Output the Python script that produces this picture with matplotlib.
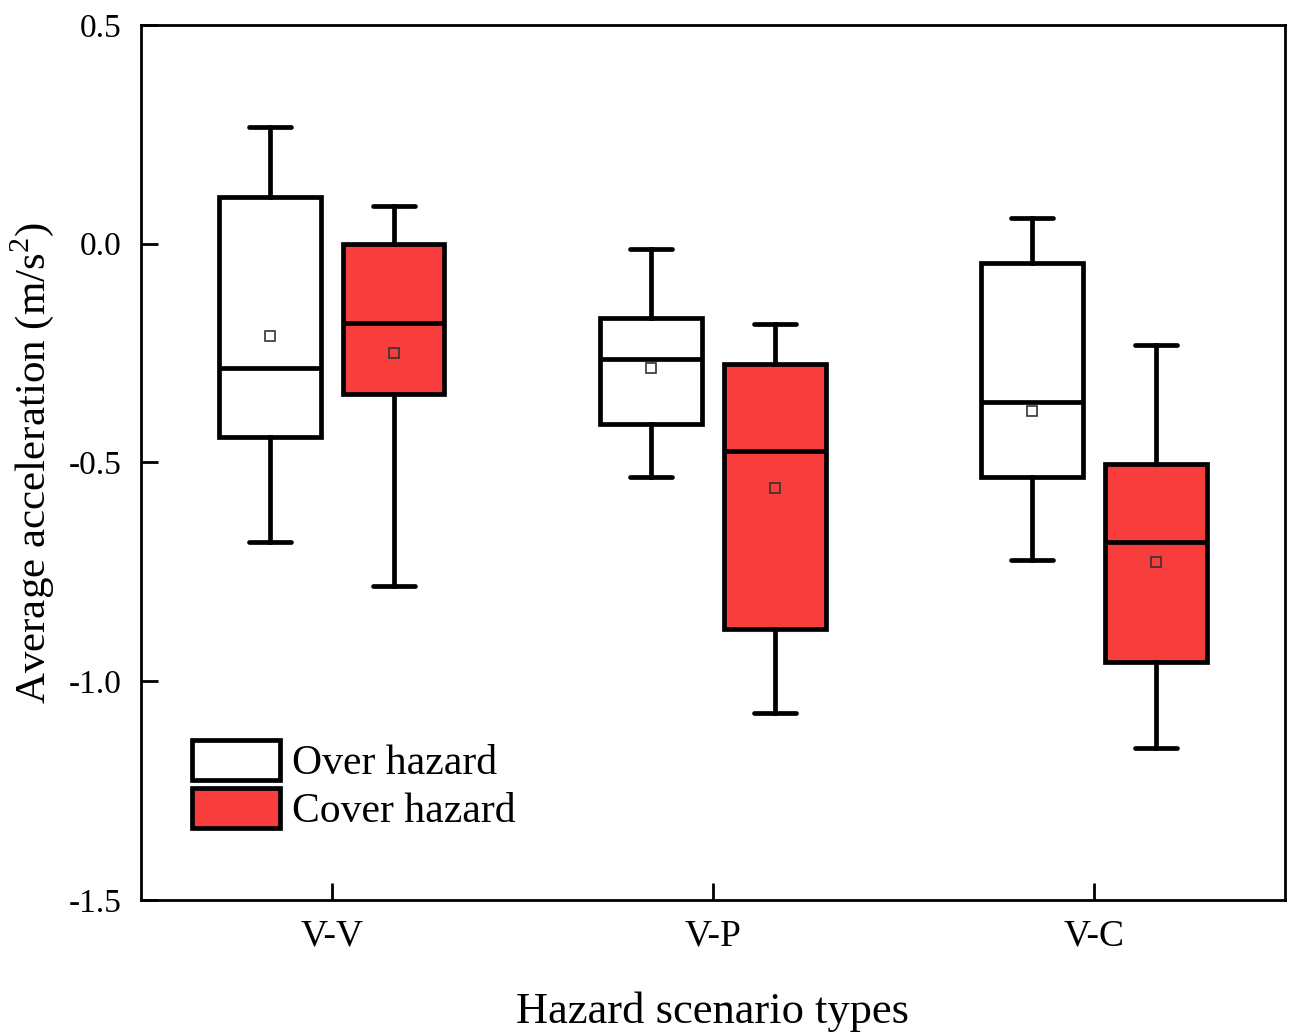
import matplotlib
matplotlib.use('Agg')
import matplotlib.pyplot as plt
from matplotlib.patches import Patch

plt.rcParams['font.family'] = ['Liberation Serif', 'DejaVu Serif']
plt.rcParams['mathtext.fontset'] = 'custom'
plt.rcParams['mathtext.rm'] = 'Liberation Serif'

categories = ['V-V', 'V-P', 'V-C']
groups = ['Over hazard', 'Cover hazard']
colors = ['white', '#F83D3D']

# per group, per category: whisker low, q1, median, q3, whisker high, mean
whislo = [[-0.681, -0.533, -0.722], [-0.782, -1.072, -1.152]]
q1 = [[-0.441, -0.411, -0.533], [-0.343, -0.880, -0.955]]
med = [[-0.283, -0.263, -0.361], [-0.181, -0.473, -0.681]]
q3 = [[0.107, -0.169, -0.043], [0.0, -0.274, -0.503]]
whishi = [[0.267, -0.011, 0.059], [0.087, -0.183, -0.231]]
mean = [[-0.210, -0.283, -0.382], [-0.249, -0.558, -0.727]]

fig = plt.figure(figsize=(12.9, 10.33), dpi=100)
ax = fig.add_axes([0.1093, 0.1288, 0.8867, 0.847])

offsets = [-0.1625, 0.1625]
lw = 3.4
for g in range(2):
	stats = []
	for i in range(len(categories)):
		stats.append(dict(whislo=whislo[g][i], q1=q1[g][i], med=med[g][i],
						  q3=q3[g][i], whishi=whishi[g][i], mean=mean[g][i]))
	pos = [i + 1 + offsets[g] for i in range(len(categories))]
	ax.bxp(stats, positions=pos, widths=0.267, showfliers=False, showmeans=True,
		   patch_artist=True, capwidths=0.11,
		   boxprops=dict(facecolor=colors[g], edgecolor='black', linewidth=lw),
		   medianprops=dict(color='black', linewidth=lw),
		   whiskerprops=dict(color='black', linewidth=lw),
		   capprops=dict(color='black', linewidth=lw, solid_capstyle='round'),
		   meanprops=dict(marker='s', markerfacecolor='none', markeredgecolor='#333333',
						  markeredgewidth=1.2, markersize=7.5))

ax.set_xlim(0.5, 3.5)
ax.set_ylim(-1.5, 0.5)
ax.set_xticks([1, 2, 3])
ax.set_xticklabels(categories)
ax.set_yticks([-1.5, -1.0, -0.5, 0.0, 0.5])
ax.set_yticklabels(['-1.5', '-1.0', '-0.5', '0.0', '0.5'])
ax.tick_params(direction='in', length=12, width=2, labelsize=24, pad=14)
ax.tick_params(axis='x', labelsize=27)

for s in ax.spines.values():
	s.set_linewidth(2)

ax.set_xlabel('Hazard scenario types', fontsize=32, labelpad=27)
ax.set_ylabel('Average acceleration (m/s$^2$)', fontsize=31, labelpad=9)

handles = [Patch(facecolor=c, edgecolor='black', linewidth=lw) for c in colors]
ax.legend(handles, groups, loc='upper left', bbox_to_anchor=(0.0446, 0.183),
		  frameon=False, fontsize=30, handlelength=2.1, handleheight=1.1,
		  handletextpad=0.3, labelspacing=0.12, borderpad=0, borderaxespad=0)

plt.savefig('out.png', dpi=100)
